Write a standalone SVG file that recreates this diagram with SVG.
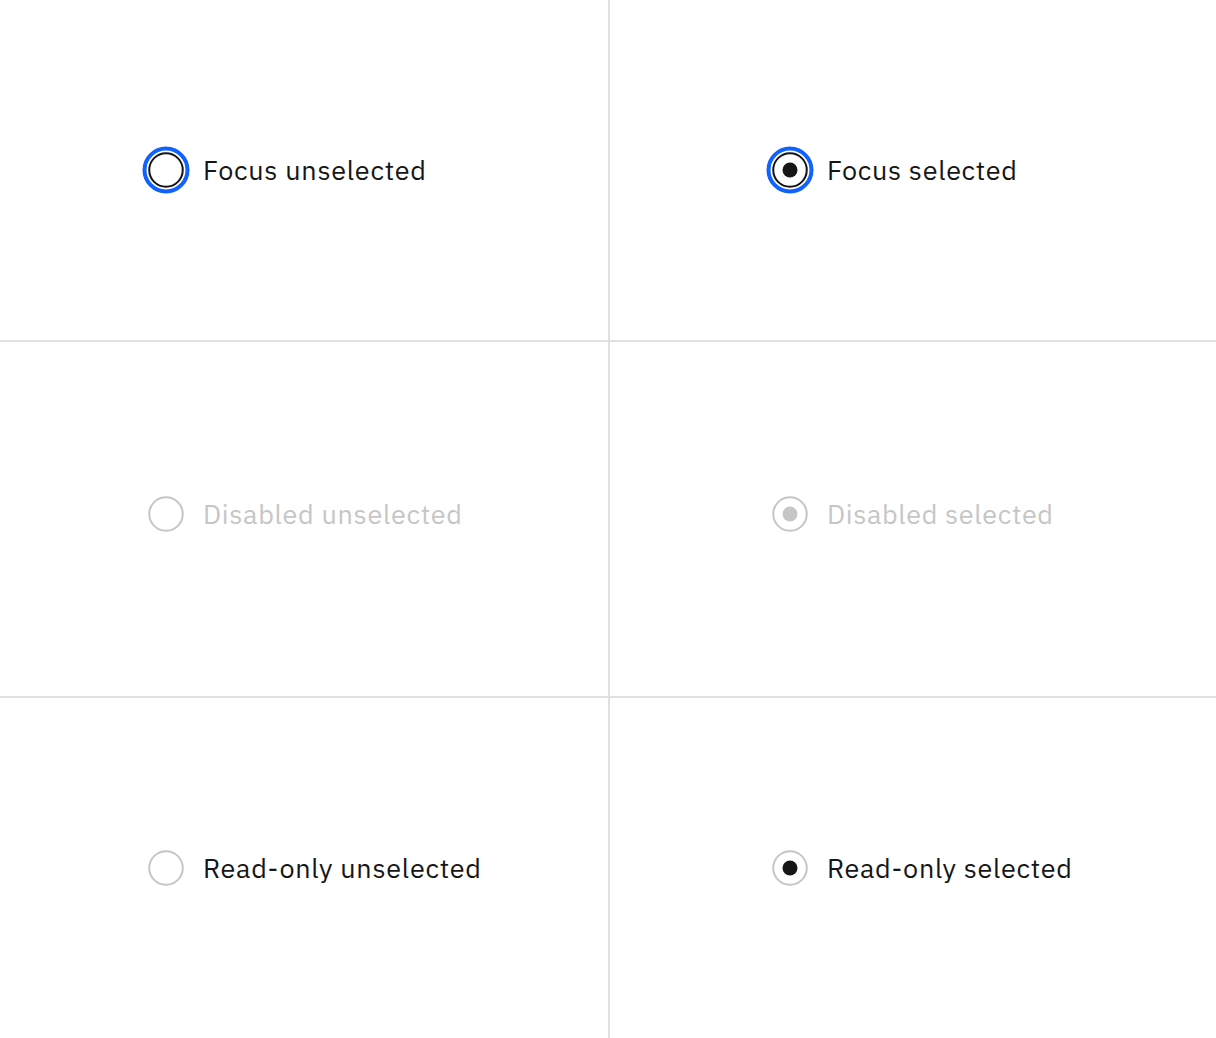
<svg xmlns="http://www.w3.org/2000/svg" width="1216" height="1038" viewBox="0 0 1216 1038">
<style>
.lbl{font-family:"IBM Plex Sans","Noto Sans","Liberation Sans",sans-serif;font-size:27px;fill:#161616}
.dis{fill:#c6c6c6}
.focus{fill:none;stroke:#0f62fe;stroke-width:4}
.ring{fill:#fff;stroke:#161616;stroke-width:2}
.gring{fill:#fff;stroke:#c6c6c6;stroke-width:2}
.grid{stroke:#e0e0e0;stroke-width:2}
</style>
<rect width="1216" height="1038" fill="#fff"/>
<g id="connectors">
<line class="grid" x1="609" y1="0" x2="609" y2="1038"/>
<line class="grid" x1="0" y1="341" x2="1216" y2="341"/>
<line class="grid" x1="0" y1="697" x2="1216" y2="697"/>
</g>
<g id="focus-unselected">
<circle class="focus" cx="166" cy="170" r="21.5"/>
<circle class="ring" cx="166" cy="170" r="16.75"/>
<text class="lbl" x="203" y="179.5" textLength="223">Focus unselected</text>
</g>
<g id="focus-selected">
<circle class="focus" cx="790" cy="170" r="21.5"/>
<circle class="ring" cx="790" cy="170" r="16.75"/>
<circle cx="790" cy="170" r="7.5" fill="#161616"/>
<text class="lbl" x="827" y="179.5" textLength="190">Focus selected</text>
</g>
<g id="disabled-unselected">
<circle class="gring" cx="166" cy="514" r="16.75"/>
<text class="lbl dis" x="203" y="523.5" textLength="259">Disabled unselected</text>
</g>
<g id="disabled-selected">
<circle class="gring" cx="790" cy="514" r="16.75"/>
<circle cx="790" cy="514" r="7.5" fill="#c6c6c6"/>
<text class="lbl dis" x="827" y="523.5" textLength="226">Disabled selected</text>
</g>
<g id="readonly-unselected">
<circle class="gring" cx="166" cy="868" r="16.75"/>
<text class="lbl" x="203" y="877.5" textLength="278">Read-only unselected</text>
</g>
<g id="readonly-selected">
<circle class="gring" cx="790" cy="868" r="16.75"/>
<circle cx="790" cy="868" r="7.5" fill="#161616"/>
<text class="lbl" x="827" y="877.5" textLength="245">Read-only selected</text>
</g>
</svg>
